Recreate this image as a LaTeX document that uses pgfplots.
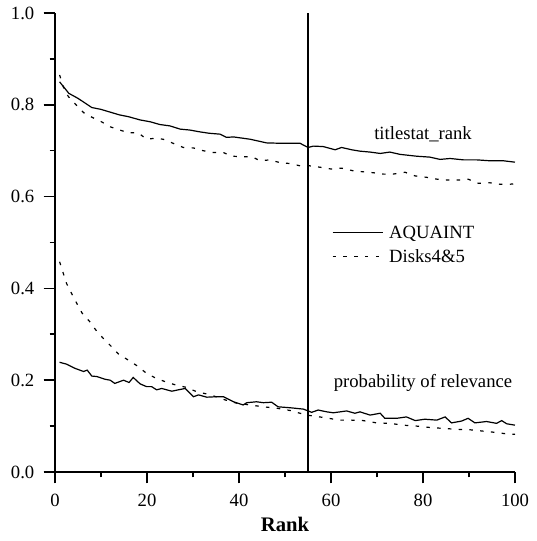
\documentclass[border=0pt]{standalone}
\usepackage{pgfplots}
\pgfplotsset{compat=1.18}
\usepackage{fontspec}
\setmainfont{Liberation Serif}

\begin{document}
\begin{tikzpicture}[font=\fontsize{14}{16.8}\selectfont]
\begin{axis}[
  scale only axis,
  width=345pt, height=344.25pt,
  xmin=0, xmax=100, ymin=0, ymax=1,
  axis lines=left,
  axis line style={-, line width=1.2pt},
  clip=false,
  xtick={0,20,...,100}, ytick={0,0.2,...,1},
  xtick align=outside, ytick align=outside,
  major tick length=8.25pt,
  every tick/.append style={black, line width=1.2pt},
  /pgf/number format/assume math mode=true,
  xticklabel style={yshift=-4.5pt},
  yticklabel style={xshift=-3.75pt, /pgf/number format/.cd, fixed, fixed zerofill, precision=1},
  xlabel={\fontsize{15.5}{18}\selectfont\textbf{Rank}},
  xlabel style={yshift=-1.5pt},
  legend style={draw=none, fill=none, at={(axis cs:60.15,0.4946)}, anchor=west,
    inner sep=0pt, column sep=2pt, row sep=3pt},
  legend cell align=left,
  legend image code/.code={\draw[#1] (0pt,0pt) -- (38pt,0pt);},
  every axis plot/.append style={line width=0.9pt, black},
]
\addplot[solid] coordinates {
(1,0.850)(3,0.825)(5,0.814)(8,0.794)(10,0.790)(12,0.784)(14,0.778)(16,0.774)
(18.5,0.767)(20.7,0.763)(22.8,0.757)(25,0.754)(27.2,0.747)(29.3,0.745)(31.5,0.741)
(33.5,0.738)(35.9,0.736)(37.3,0.729)(38.8,0.730)(42.4,0.725)(46,0.717)(49.6,0.716)
(53.3,0.716)(55,0.707)(56.2,0.710)(58.3,0.709)(60.9,0.702)(62.3,0.707)(64.5,0.702)
(66.3,0.699)(68.5,0.697)(70.7,0.694)(72.8,0.697)(75,0.692)(78.6,0.688)(81.5,0.686)
(83.7,0.681)(85.9,0.683)(88.8,0.680)(91.7,0.680)(94.6,0.678)(97.5,0.678)(100,0.675)};
\addlegendentry{AQUAINT}
\addplot[dash pattern=on 2.6pt off 5.5pt] coordinates {
(1,0.865)(1.8,0.839)(2.9,0.818)(4.3,0.803)(6.2,0.783)(8,0.773)(10.1,0.763)(12,0.752)
(14.1,0.745)(15.9,0.739)(18.1,0.739)(19.9,0.725)(21.7,0.727)(23.5,0.725)(25.7,0.716)
(27.9,0.707)(30.1,0.706)(32.2,0.700)(34.4,0.696)(36.6,0.696)(38.4,0.688)(40.6,0.687)
(42.8,0.687)(44.6,0.678)(46.7,0.680)(48.9,0.674)(51.1,0.672)(53.3,0.667)(55.4,0.667)
(57.6,0.664)(60.1,0.660)(62.3,0.662)(64.9,0.656)(67,0.654)(69.2,0.652)(71.4,0.649)
(73.5,0.649)(76.1,0.653)(78.3,0.645)(80.8,0.642)(83,0.638)(85.5,0.636)(87.7,0.636)
(89.8,0.638)(92,0.629)(94.6,0.630)(96.7,0.627)(98.9,0.627)(100,0.628)};
\addlegendentry{Disks4\&5}
\addplot[solid, forget plot] coordinates {
(1,0.239)(2.5,0.235)(4.3,0.226)(6.2,0.219)(7,0.222)(8,0.209)(9.1,0.208)(10.9,0.202)
(12,0.200)(13,0.193)(14.9,0.200)(16.1,0.195)(17,0.206)(18.5,0.192)(19.9,0.186)(21,0.186)
(22.1,0.179)(23.2,0.182)(25.4,0.176)(26.8,0.179)(28.3,0.182)(30.1,0.164)(31.2,0.168)
(33,0.163)(35.1,0.164)(36.6,0.164)(38.8,0.153)(40.9,0.146)(41.7,0.151)(43.8,0.153)
(45.3,0.151)(47.1,0.152)(48.5,0.142)(51.1,0.140)(54,0.137)(55.8,0.130)(57.2,0.135)
(59.1,0.131)(60.5,0.129)(63.4,0.133)(65.2,0.128)(66.3,0.131)(68.5,0.124)(70.7,0.128)
(71.7,0.117)(74.3,0.117)(76.4,0.120)(78.3,0.112)(80.4,0.115)(83,0.113)(84.8,0.120)
(86.2,0.107)(88.4,0.111)(89.8,0.117)(91.3,0.107)(93.8,0.110)(96,0.106)(97.1,0.112)
(98.2,0.105)(100,0.102)};
\addplot[dash pattern=on 2.6pt off 5.5pt, forget plot] coordinates {
(1,0.458)(1.8,0.433)(2.5,0.411)(3.6,0.389)(4.7,0.368)(5.9,0.346)(7.6,0.327)(8.9,0.309)
(10.5,0.291)(12.3,0.273)(13.8,0.257)(15.9,0.244)(17.9,0.231)(19.9,0.215)(22,0.204)
(23.9,0.197)(26.1,0.190)(28.3,0.185)(30.8,0.175)(33,0.170)(34.4,0.166)(37,0.157)
(39.5,0.150)(42.4,0.146)(45.3,0.142)(48.2,0.139)(51.1,0.134)(54.7,0.124)(56.9,0.121)
(59.4,0.117)(62,0.113)(64.5,0.113)(67,0.112)(69.9,0.107)(72.8,0.106)(75.7,0.102)
(78.6,0.100)(81.5,0.097)(84.4,0.095)(87.3,0.093)(90.2,0.092)(93.1,0.089)(96,0.086)
(98.2,0.083)(100,0.082)};
\addplot[solid, forget plot] coordinates {(55,0) (55,1)};
% tick marks as rules
\pgfplotsinvokeforeach{0,20,40,60,80,100}{
  \node[inner sep=0pt, anchor=north] at (axis cs:#1,0) {\rule{1.2pt}{8.25pt}};}
\pgfplotsinvokeforeach{10,30,50,70,90}{
  \node[inner sep=0pt, anchor=north] at (axis cs:#1,0) {\rule{1.2pt}{3.75pt}};}
\pgfplotsinvokeforeach{0,0.2,0.4,0.6,0.8,1}{
  \node[inner sep=0pt, anchor=east] at (axis cs:0,#1) {\rule{8.25pt}{1.2pt}};}
\pgfplotsinvokeforeach{0.1,0.3,0.5,0.7,0.9}{
  \node[inner sep=0pt, anchor=east] at (axis cs:0,#1) {\rule{3.75pt}{1.2pt}};}
\node at (axis cs:80,0.736) {titlestat\_rank};
\node at (axis cs:80,0.194) {probability of relevance};
\end{axis}
\path (-41.25pt,-51.75pt) rectangle (360.75pt,354pt);
\end{tikzpicture}
\end{document}
